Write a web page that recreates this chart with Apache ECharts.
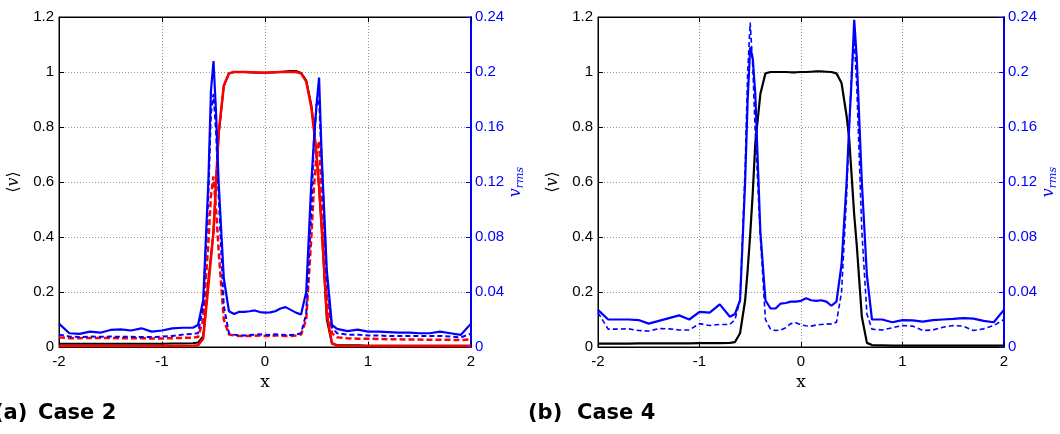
<!DOCTYPE html>
<html><head><meta charset="utf-8">
<script src="https://cdn.jsdelivr.net/npm/echarts@6/dist/echarts.min.js"></script>
<style>html,body{margin:0;padding:0;background:#fff}#c{width:1060px;height:434px}</style>
</head><body><div id="c"></div>
<script>
// shared x positions
const X = [-2,-1.9,-1.8,-1.7,-1.6,-1.5,-1.4,-1.3,-1.2,-1.1,-1,-0.9,-0.8,-0.7,
  -0.65,-0.6,-0.55,-0.525,-0.5,-0.475,-0.45,-0.4,-0.35,
  -0.3,-0.25,-0.2,-0.15,-0.1,-0.05,0,0.05,0.1,0.15,0.2,0.25,0.3,
  0.35,0.4,0.45,0.475,0.5,0.525,0.55,0.6,0.65,
  0.7,0.8,0.9,1,1.1,1.2,1.3,1.4,1.5,1.6,1.7,1.8,1.9,2];

const xTicks = [-2,-1,0,1,2];
const meanTicks = [0,0.2,0.4,0.6,0.8,1,1.2];
const rmsTicks = [0,0.04,0.08,0.12,0.16,0.2,0.24];

// Case 2 : mean velocity <v>
const case2MeanBlack = [0.012,0.012,0.012,0.012,0.012,0.012,0.012,0.012,0.012,0.012,0.012,0.013,0.013,0.014,
  0.016,0.04,0.24,0.33,0.42,0.6,0.77,0.95,0.995,
  1.0,1.0,1.0,0.999,0.998,0.997,0.997,0.998,0.999,1.0,1.002,1.004,1.004,
  0.997,0.97,0.88,0.8,0.7,0.58,0.43,0.1,0.012,
  0.007,0.006,0.006,0.005,0.005,0.005,0.005,0.005,0.005,0.005,0.005,0.005,0.005,0.005];
const case2MeanRed = [0.004,0.004,0.004,0.004,0.004,0.004,0.004,0.004,0.004,0.004,0.004,0.004,0.004,0.005,
  0.006,0.03,0.22,0.32,0.42,0.6,0.78,0.95,0.995,
  1.0,1.0,1.0,0.999,0.998,0.998,0.997,0.998,0.999,1.0,1.0,1.0,1.0,
  0.995,0.965,0.87,0.79,0.7,0.58,0.44,0.12,0.015,
  0.004,0.004,0.004,0.004,0.004,0.004,0.004,0.004,0.004,0.004,0.004,0.004,0.004,0.004];
// Case 2 : v_rms
const case2RmsBlue = [0.017,0.010,0.0096,0.0112,0.0104,0.0124,0.0128,0.012,0.0136,0.0112,0.012,0.0136,0.014,0.014,
  0.016,0.034,0.12,0.186,0.208,0.17,0.12,0.05,0.026,
  0.024,0.0256,0.0256,0.026,0.0266,0.0254,0.025,0.0252,0.026,0.028,0.029,0.027,0.025,
  0.0236,0.04,0.12,0.15,0.176,0.196,0.14,0.056,0.016,
  0.0132,0.0116,0.0126,0.0112,0.0112,0.0108,0.0104,0.0104,0.01,0.01,0.0112,0.01,0.0088,0.017];
const case2RmsBlueDash = [0.009,0.0076,0.0072,0.0076,0.0074,0.0076,0.0074,0.0074,0.0072,0.0072,0.0076,0.008,0.009,0.0096,
  0.01,0.03,0.11,0.17,0.184,0.156,0.11,0.03,0.01,
  0.009,0.0084,0.0084,0.0088,0.009,0.0092,0.009,0.0088,0.0092,0.009,0.0088,0.0088,0.009,
  0.01,0.024,0.1,0.15,0.176,0.18,0.136,0.05,0.014,
  0.01,0.009,0.009,0.0084,0.0084,0.008,0.008,0.008,0.008,0.008,0.008,0.0076,0.007,0.0096];
const case2RmsRedDash = [0.007,0.0064,0.0064,0.0066,0.0066,0.0066,0.0064,0.0064,0.0064,0.0062,0.0062,0.0064,0.0066,0.0068,
  0.0072,0.02,0.076,0.11,0.124,0.1,0.07,0.02,0.009,
  0.0084,0.008,0.008,0.008,0.0082,0.0084,0.008,0.008,0.0084,0.0082,0.008,0.008,0.0084,
  0.009,0.02,0.08,0.116,0.14,0.15,0.11,0.036,0.01,
  0.007,0.0064,0.006,0.006,0.0058,0.0056,0.0056,0.0054,0.0054,0.0052,0.0052,0.0052,0.005,0.0056];

// Case 4 : mean velocity <v>
const case4MeanBlack = [0.012,0.012,0.012,0.012,0.013,0.013,0.013,0.013,0.013,0.013,0.014,0.014,0.014,0.015,
  0.018,0.05,0.17,0.28,0.41,0.56,0.74,0.92,0.995,
  1.0,1.0,1.0,1.0,0.999,0.999,1.0,1.0,1.001,1.002,1.002,1.001,1.0,
  0.995,0.96,0.84,0.76,0.62,0.48,0.37,0.11,0.015,
  0.007,0.006,0.005,0.005,0.005,0.005,0.005,0.005,0.005,0.005,0.005,0.005,0.005,0.005];
// Case 4 : v_rms
const case4RmsBlue = [0.027,0.02,0.02,0.02,0.0196,0.017,0.019,0.021,0.023,0.02,0.0256,0.025,0.031,0.022,
  0.024,0.034,0.12,0.18,0.218,0.21,0.184,0.084,0.034,
  0.028,0.028,0.0316,0.032,0.033,0.033,0.0336,0.0354,0.034,0.0336,0.034,0.033,0.03,
  0.033,0.06,0.12,0.16,0.196,0.238,0.21,0.12,0.052,
  0.02,0.02,0.018,0.0196,0.0194,0.0184,0.0196,0.02,0.0204,0.021,0.0206,0.019,0.018,0.027];
const case4RmsBlueDash = [0.025,0.013,0.013,0.0132,0.012,0.0116,0.0134,0.0132,0.0124,0.0124,0.017,0.0156,0.0164,0.0164,
  0.02,0.034,0.13,0.2,0.236,0.204,0.156,0.08,0.02,
  0.013,0.012,0.0124,0.014,0.017,0.0176,0.016,0.0154,0.0152,0.016,0.0164,0.0166,0.0168,
  0.018,0.04,0.11,0.16,0.2,0.224,0.19,0.084,0.024,
  0.013,0.0124,0.014,0.0156,0.0152,0.012,0.0124,0.0144,0.0156,0.0152,0.012,0.0132,0.0156,0.02];

const captionTags = ['(a)', '(b)'];
const captionNames = ['Case 2', 'Case 4'];

const pts = arr => X.map((x, i) => [x, arr[i]]);
const tickFont = {fontFamily: 'Liberation Sans', fontSize: 15};
const grids = [
  {left: 59, right: 589, top: 17, bottom: 87},
  {left: 598, right: 51, top: 17, bottom: 87}
];

const xAxes = [], yAxes = [];
grids.forEach((g, gi) => {
  xAxes.push({
    gridIndex: gi, type: 'value', min: -2, max: 2, interval: 1, position: 'bottom',
    name: 'x', nameLocation: 'middle', nameGap: 19,
    nameTextStyle: {fontFamily: 'DejaVu Serif', fontSize: 17, color: '#000'},
    axisLine: {onZero: false, lineStyle: {color: '#000', width: 1}},
    axisTick: {inside: true, length: 5, lineStyle: {color: '#000'}},
    axisLabel: Object.assign({color: '#000', margin: 7}, tickFont),
    splitLine: {show: true, lineStyle: {type: [1, 2], color: '#999', width: 1}}
  });
  xAxes.push({
    gridIndex: gi, type: 'value', min: -2, max: 2, interval: 1, position: 'top',
    axisLine: {onZero: false, lineStyle: {color: '#000', width: 1}},
    axisTick: {inside: true, length: 5, lineStyle: {color: '#000'}},
    axisLabel: {show: false}, splitLine: {show: false}
  });
  yAxes.push({
    gridIndex: gi, type: 'value', min: 0, max: 1.2, interval: 0.2, position: 'left',
    name: '{a|⟨}{v|v}{a|⟩}', nameLocation: 'middle', nameGap: 37, nameRotate: 90,
    nameTextStyle: {rich: {
      a: {fontFamily: 'DejaVu Serif', fontSize: 16, color: '#000'},
      v: {fontFamily: 'DejaVu Serif', fontStyle: 'italic', fontSize: 16, color: '#000'}
    }},
    axisLine: {show: true, onZero: false, lineStyle: {color: '#000', width: 1}},
    axisTick: {inside: true, length: 5, lineStyle: {color: '#000'}},
    axisLabel: Object.assign({color: '#000', margin: 5}, tickFont),
    splitLine: {show: true, lineStyle: {type: [1, 2], color: '#999', width: 1}}
  });
  yAxes.push({
    gridIndex: gi, type: 'value', min: 0, max: 0.24, interval: 0.04, position: 'right',
    name: '{v|v}{s|rms}', nameLocation: 'middle', nameGap: 24, nameRotate: 90,
    nameTextStyle: {rich: {
      v: {fontFamily: 'DejaVu Serif', fontStyle: 'italic', fontSize: 16, color: '#0000ff'},
      s: {fontFamily: 'DejaVu Serif', fontStyle: 'italic', fontSize: 11, color: '#0000ff', padding: [9, 0, 0, 0]}
    }},
    axisLine: {show: true, onZero: false, lineStyle: {color: '#0000ff', width: 2}},
    axisTick: {inside: true, length: 5, lineStyle: {color: '#0000ff'}},
    axisLabel: Object.assign({color: '#0000ff', margin: 4}, tickFont),
    splitLine: {show: false}
  });
});

function line(gi, yi, arr, color, width, type, z) {
  return {
    type: 'line', xAxisIndex: gi * 2, yAxisIndex: gi * 2 + yi, data: pts(arr),
    showSymbol: false, symbol: 'none', smooth: false, silent: true, animation: false,
    lineStyle: {color: color, width: width, type: type}, z: z
  };
}

const series = [
  line(0, 0, case2MeanBlack, '#000000', 2, 'solid', 2),
  line(0, 0, case2MeanRed, '#ff0000', 2.5, 'solid', 3),
  line(0, 1, case2RmsRedDash, '#ff0000', 2.5, [6, 3], 4),
  line(0, 1, case2RmsBlueDash, '#0000ff', 2, [5, 3], 5),
  line(0, 1, case2RmsBlue, '#0000ff', 2.2, 'solid', 6),
  line(1, 0, case4MeanBlack, '#000000', 2.2, 'solid', 2),
  line(1, 1, case4RmsBlueDash, '#0000ff', 1.6, [5, 3], 5),
  line(1, 1, case4RmsBlue, '#0000ff', 2.2, 'solid', 6)
];

const capStyle = {fontFamily: 'DejaVu Sans', fontWeight: 'bold', fontSize: 21, fill: '#000'};
const chart = echarts.init(document.getElementById('c'), null, {renderer: 'canvas'});
chart.setOption({
  animation: false,
  backgroundColor: '#fff',
  grid: grids.map(g => Object.assign({show: true, borderColor: '#000', borderWidth: 1, backgroundColor: 'transparent'}, g)),
  xAxis: xAxes,
  yAxis: yAxes,
  series: series,
  graphic: [
    {type: 'text', left: -6, top: 403, style: Object.assign({text: captionTags[0]}, capStyle)},
    {type: 'text', left: 38, top: 403, style: Object.assign({text: captionNames[0]}, capStyle)},
    {type: 'text', left: 528, top: 403, style: Object.assign({text: captionTags[1]}, capStyle)},
    {type: 'text', left: 577, top: 403, style: Object.assign({text: captionNames[1]}, capStyle)}
  ]
});
</script>
</body></html>
